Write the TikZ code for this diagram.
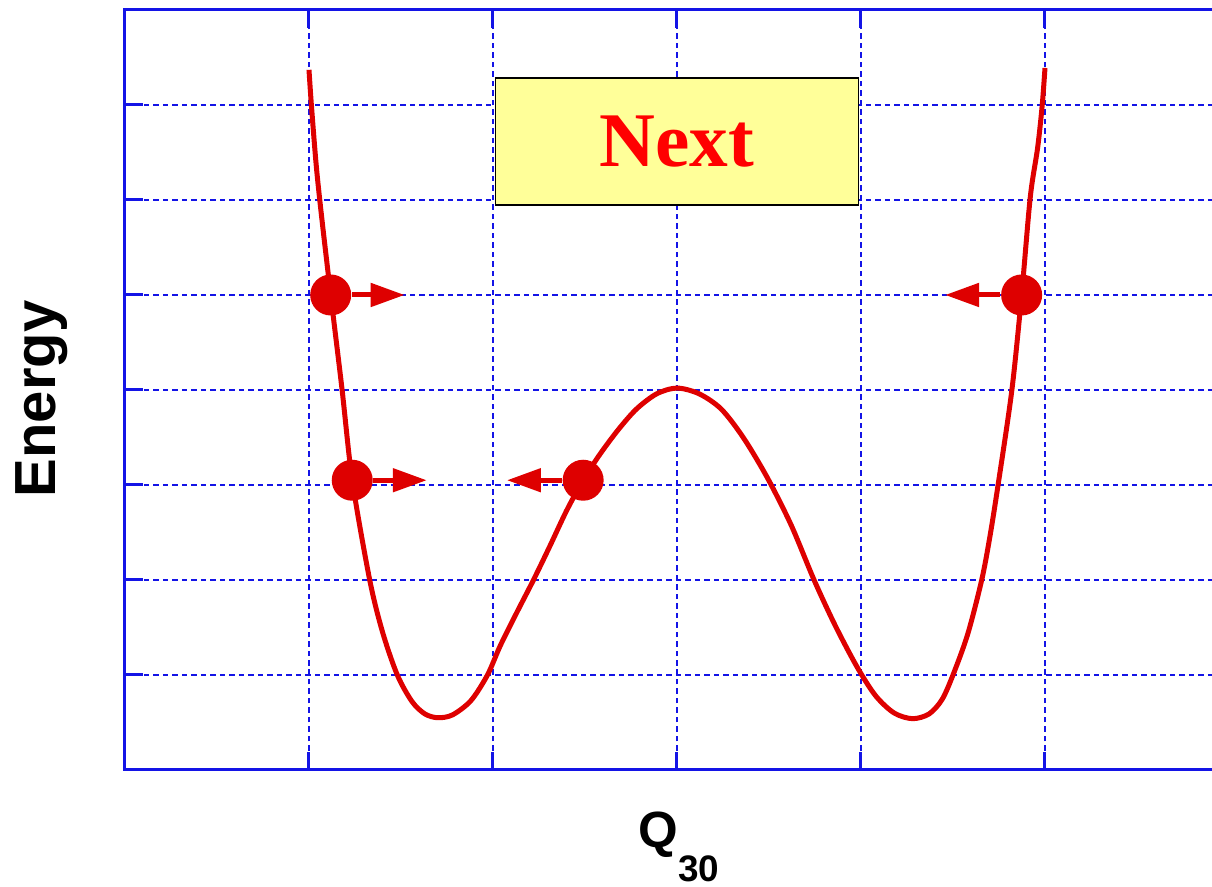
\documentclass[tikz,border=0pt]{standalone}
\usepackage{fontspec}
\setmainfont{Liberation Serif}
\setsansfont{Liberation Sans}
\usetikzlibrary{arrows.meta}

\definecolor{plotred}{RGB}{222,0,0}
\definecolor{gridblue}{RGB}{20,20,230}
\definecolor{boxyellow}{RGB}{255,255,153}

\begin{document}
\begin{tikzpicture}[x=1.84cm,y=0.95cm,
  gridln/.style={gridblue,line width=0.025cm,dash pattern=on 0.055cm off 0.04cm},
  axisln/.style={gridblue,line width=0.03cm},
  ball/.style={circle,fill=plotred,inner sep=0pt,minimum size=0.41cm},
  push/.style={-{Triangle[length=3.4mm,width=2.3mm]},plotred,line width=0.05cm},
  curve/.style={plotred,line width=0.05cm,line join=round},
  lbl/.style={font=\sffamily\bfseries\fontsize{16.5}{20}\selectfont}]

  \useasboundingbox (-0.6793,-1.2316) rectangle (5.9076,8.1053);
  \clip (-0.6793,-1.2316) rectangle (5.9076,8.1053);

  \foreach \x in {1,...,5} \draw[gridln] (\x,0) -- (\x,8);
  \foreach \y in {1,...,7} \draw[gridln] (0,\y) -- (6.5,\y);
  \foreach \x in {1,...,5} {
    \draw[axisln] (\x,0) -- ++(0,0.18cm);
    \draw[axisln] (\x,8) -- ++(0,-0.18cm);
  }
  \foreach \y in {1,...,7} \draw[axisln] (0,\y) -- ++(0.18cm,0);
  \draw[axisln] (6.5,8) -- (0,8) -- (0,0) -- (6.5,0);

  \node[draw=black,line width=0.017cm,fill=boxyellow,minimum width=3.63cm,minimum height=1.27cm,
    text=red,font=\bfseries\fontsize{22}{26}\selectfont] (nextbox) at (3.0,6.615) {Next};

  \draw[curve] plot[smooth,tension=0.5] coordinates {
    (1.0,7.37) (1.013,7.0) (1.04,6.35) (1.07,5.8) (1.118,5.0) (1.18,4.0) (1.235,3.05)
    (1.33,2.0) (1.40,1.45) (1.48,1.0) (1.56,0.72) (1.63,0.59) (1.70,0.55) (1.78,0.58)
    (1.88,0.73) (1.97,1.0) (2.04,1.31) (2.13,1.66) (2.22,2.0) (2.31,2.36) (2.40,2.73)
    (2.49,3.05) (2.58,3.32) (2.68,3.58) (2.78,3.80) (2.89,3.96) (3.0,4.02) (3.12,3.96)
    (3.24,3.80) (3.36,3.50) (3.49,3.08) (3.62,2.58) (3.745,2.0) (3.86,1.52) (3.98,1.08)
    (4.08,0.78) (4.18,0.60) (4.28,0.54) (4.37,0.59) (4.44,0.74) (4.5,1.0) (4.58,1.43)
    (4.656,2.0) (4.70,2.45) (4.745,3.0) (4.82,4.0) (4.873,5.0) (4.92,6.03) (4.96,6.55)
    (4.985,7.0) (5.0,7.39)};

  \node[ball] (b1) at (1.118,5.0) {};
  \node[ball] (b2) at (1.235,3.05) {};
  \node[ball] (b3) at (2.49,3.05) {};
  \node[ball] (b4) at (4.873,5.0) {};
  \coordinate (t1) at (1.52,5.0);
  \coordinate (t2) at (1.64,3.05);
  \coordinate (t3) at (2.076,3.05);
  \coordinate (t4) at (4.457,5.0);
  \draw[push] (b1) -- (t1);
  \draw[push] (b2) -- (t2);
  \draw[push] (b3) -- (t3);
  \draw[push] (b4) -- (t4);

  \node[lbl,rotate=90] (elabel) at (-0.45,3.905) {Energy};
  \node[font=\sffamily\bfseries\fontsize{14.5}{17}\selectfont,anchor=base west,inner sep=0pt]
    (qlabel) at (2.788,-0.821) {Q\raisebox{-0.34cm}{\fontsize{10.5}{12}\selectfont 30}};
\end{tikzpicture}
\end{document}
